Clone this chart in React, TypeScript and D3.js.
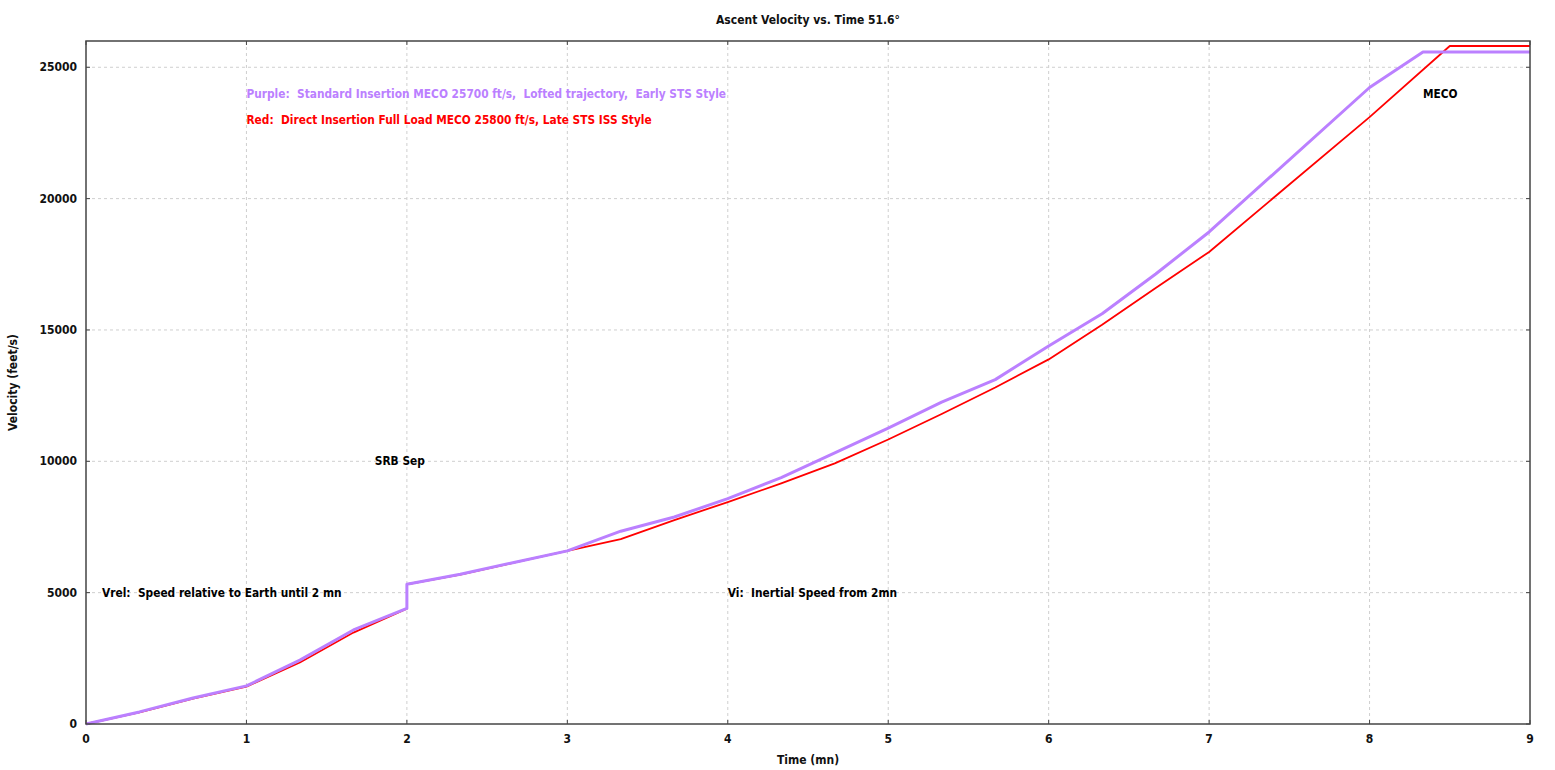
import React from "react";
import * as d3 from "d3";

const timePurple = [0, 0.333, 0.667, 1, 1.333, 1.667, 2, 2, 2.333, 2.667, 3, 3.333, 3.667, 4, 4.333, 4.667, 5, 5.333, 5.667, 6, 6.333, 6.667, 7, 8, 8.333, 9];
const velPurple = [0, 460, 990, 1450, 2430, 3580, 4400, 5320, 5700, 6150, 6590, 7340, 7880, 8580, 9380, 10320, 11260, 12250, 13110, 14390, 15620, 17130, 18730, 24230, 25580, 25580];

const timeRed = [0, 0.333, 0.667, 1, 1.333, 1.667, 2, 2, 2.333, 2.667, 3, 3.333, 3.667, 4, 4.333, 4.667, 5, 5.333, 5.667, 6, 6.333, 6.667, 7, 8, 8.5, 9];
const velRed = [0, 440, 970, 1420, 2340, 3480, 4390, 5320, 5690, 6140, 6590, 7040, 7760, 8450, 9160, 9920, 10830, 11800, 12810, 13880, 15200, 16600, 17970, 23100, 25810, 25810];

const xTicks = [0, 1, 2, 3, 4, 5, 6, 7, 8, 9];
const yTicks = [0, 5000, 10000, 15000, 20000, 25000];

const annotations = [
  { t: 1, v: 24000, text: "Purple:  Standard Insertion MECO 25700 ft/s,  Lofted trajectory,  Early STS Style", color: "#bb80ff" },
  { t: 1, v: 23000, text: "Red:  Direct Insertion Full Load MECO 25800 ft/s, Late STS ISS Style", color: "#ff0000" },
  { t: 8.333, v: 24000, text: "MECO", color: "#000000" },
  { t: 1.8, v: 10000, text: "SRB Sep", color: "#000000" },
  { t: 0.1, v: 5000, text: "Vrel:  Speed relative to Earth until 2 mn", color: "#000000" },
  { t: 4, v: 5000, text: "Vi:  Inertial Speed from 2mn", color: "#000000" },
];

const W = 1555;
const H = 770;
const M = { left: 86, right: 1530, top: 41, bottom: 724 };
const FONT = "'DejaVu Sans Condensed', 'DejaVu Sans', sans-serif";

export default function App() {
  const x = d3.scaleLinear().domain([0, 9]).range([M.left, M.right]);
  const y = d3.scaleLinear().domain([0, 26000]).range([M.bottom, M.top]);
  const line = d3
    .line<[number, number]>()
    .x((d) => x(d[0]))
    .y((d) => y(d[1]));
  const purple = timePurple.map((t, i) => [t, velPurple[i]] as [number, number]);
  const red = timeRed.map((t, i) => [t, velRed[i]] as [number, number]);
  const axisColor = "#444";
  const gridColor = "#cfcfcf";

  return (
    <svg
      width={W}
      height={H}
      style={{ position: "absolute", left: 0, top: 0, background: "#fff" }}
      fontFamily={FONT}
    >
      <rect x={0} y={0} width={W} height={H} fill="#fff" />
      {/* grid */}
      {xTicks.slice(1, -1).map((t) => (
        <line key={"gx" + t} x1={x(t)} x2={x(t)} y1={M.top} y2={M.bottom} stroke={gridColor} strokeDasharray="3,3" strokeWidth={1} />
      ))}
      {yTicks.slice(1).map((v) => (
        <line key={"gy" + v} x1={M.left} x2={M.right} y1={y(v)} y2={y(v)} stroke={gridColor} strokeDasharray="3,3" strokeWidth={1} />
      ))}
      {/* ticks inward */}
      {xTicks.map((t) => (
        <g key={"tx" + t}>
          <line x1={x(t)} x2={x(t)} y1={M.bottom} y2={M.bottom - 4} stroke={axisColor} strokeWidth={1} />
          <line x1={x(t)} x2={x(t)} y1={M.top} y2={M.top + 4} stroke={axisColor} strokeWidth={1} />
          <text x={x(t)} y={739} textAnchor="middle" dominantBaseline="central" fontSize={12} fontWeight="bold" fill="#111">
            {t}
          </text>
        </g>
      ))}
      {yTicks.map((v) => (
        <g key={"ty" + v}>
          <line x1={M.left} x2={M.left + 4} y1={y(v)} y2={y(v)} stroke={axisColor} strokeWidth={1} />
          <line x1={M.right} x2={M.right - 4} y1={y(v)} y2={y(v)} stroke={axisColor} strokeWidth={1} />
          <text x={M.left - 9} y={y(v)} textAnchor="end" dominantBaseline="central" fontSize={12} fontWeight="bold" fill="#111">
            {v}
          </text>
        </g>
      ))}
      {/* lines */}
      <path d={line(red) || ""} fill="none" stroke="#ff0000" strokeWidth={1.8} strokeLinejoin="round" />
      <path d={line(purple) || ""} fill="none" stroke="#bb80ff" strokeWidth={3} strokeLinejoin="round" />
      {/* frame */}
      <rect x={M.left} y={M.top} width={M.right - M.left} height={M.bottom - M.top} fill="none" stroke={axisColor} strokeWidth={1.5} />
      {/* annotations */}
      {annotations.map((a, i) => (
        <text
          key={"a" + i}
          x={x(a.t)}
          y={y(a.v)}
          dominantBaseline="central"
          fontSize={11.8}
          fontWeight="bold"
          fill={a.color}
          style={{ whiteSpace: "pre" }}
        >
          {a.text}
        </text>
      ))}
      {/* titles */}
      <text x={(M.left + M.right) / 2} y={20} textAnchor="middle" dominantBaseline="central" fontSize={12} fontWeight="bold" fill="#111">
        Ascent Velocity vs. Time 51.6°
      </text>
      <text x={(M.left + M.right) / 2} y={760} textAnchor="middle" dominantBaseline="central" fontSize={12} fontWeight="bold" fill="#111">
        Time (mn)
      </text>
      <text transform={`translate(13,${(M.top + M.bottom) / 2}) rotate(-90)`} textAnchor="middle" dominantBaseline="central" fontSize={12} fontWeight="bold" fill="#111">
        Velocity (feet/s)
      </text>
    </svg>
  );
}
